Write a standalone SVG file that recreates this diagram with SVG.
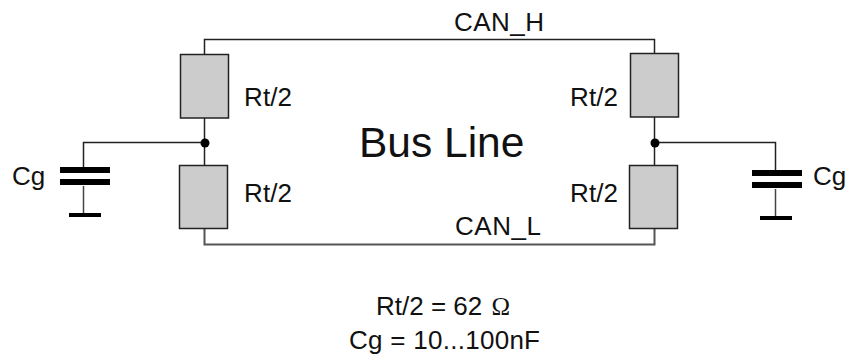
<svg xmlns="http://www.w3.org/2000/svg" width="849" height="356" viewBox="0 0 849 356">
<style>
text{font-family:"Liberation Sans",Arial,sans-serif;font-size:26px;fill:#111}
.w{fill:none;stroke:#222;stroke-width:1.5}
.r{fill:#ccc;stroke:#222;stroke-width:1.5}
.p{fill:#000}
</style>
<rect width="849" height="356" fill="#fff"/>
<g id="connectors">
<path class="w" d="M204.500 55V39.500H654.500V54"/>
<path class="w" d="M204.500 228V244.500H654.500V228" style="stroke:#555;stroke-width:2"/>
<path class="w" d="M204.500 118V165"/>
<path class="w" d="M654.500 117V165"/>
<path class="w" d="M204.500 142.500H83.500V167"/>
<path class="w" d="M654.500 142.500H775.500V171"/>
<path class="w" d="M83.500 186V214" style="stroke:#444"/>
<path class="w" d="M775.500 189V217" style="stroke:#444"/>
</g>
<g id="r1"><rect class="r" x="180.500" y="54.500" width="48" height="63.500"/></g>
<g id="r2"><rect class="r" x="179.500" y="165.500" width="48" height="63"/></g>
<g id="r3"><rect class="r" x="630.500" y="53.500" width="48" height="63.500"/></g>
<g id="r4"><rect class="r" x="629.500" y="165.500" width="48" height="63"/></g>
<g id="j1"><circle class="p" cx="205" cy="143" r="4.500"/></g>
<g id="j2"><circle class="p" cx="655" cy="143" r="4.500"/></g>
<g id="c1">
<rect class="p" x="60" y="167" width="50" height="6"/><rect class="p" x="60" y="179" width="50" height="6"/><rect class="p" x="69" y="213" width="32" height="4"/>
</g>
<g id="c2">
<rect class="p" x="752" y="170" width="50" height="6"/><rect class="p" x="752" y="182" width="50" height="6"/><rect class="p" x="760" y="216" width="32" height="4"/>
</g>
<g id="labels">
<text x="244" y="106" textLength="48">Rt/2</text>
<text x="244" y="202" textLength="48">Rt/2</text>
<text x="570" y="106" textLength="48">Rt/2</text>
<text x="570" y="202" textLength="48">Rt/2</text>
<text x="12" y="185">Cg</text>
<text x="813" y="185">Cg</text>
<text x="454" y="31" textLength="90">CAN_H</text>
<text x="455" y="235" textLength="86">CAN_L</text>
<text x="359" y="157" style="font-size:42.500px">Bus Line</text>
<text x="376" y="315">Rt/2 = 62 <tspan dx="2" style="font-family:'Liberation Serif',serif;font-size:25px">Ω</tspan></text>
<text x="349" y="349" textLength="191">Cg = 10...100nF</text>
</g>
</svg>
